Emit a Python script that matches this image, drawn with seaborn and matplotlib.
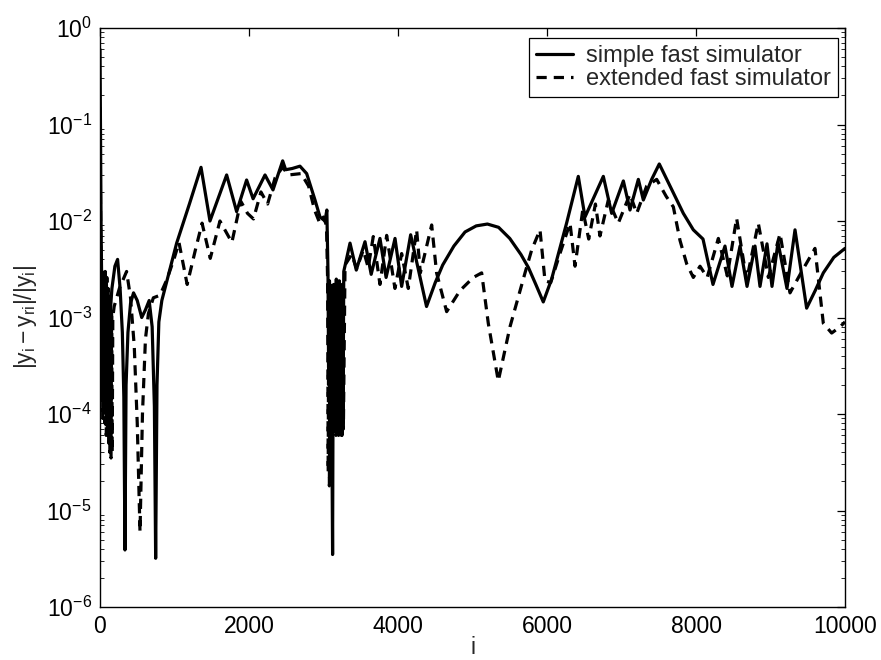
import numpy as np
import pandas as pd
import matplotlib
matplotlib.use("Agg")
import matplotlib.pyplot as plt
from matplotlib.lines import Line2D
from matplotlib.ticker import LogLocator
import seaborn as sns

# Relative error of the two fast simulators versus sample index i
simple_i = [0, 8, 15, 22, 30, 38, 46, 54, 62, 70, 78, 86, 94, 102, 110, 118, 126, 140, 160, 200,
            236, 270, 300, 320, 335, 350, 375, 410, 450, 500, 560, 610, 660, 700, 730, 747, 765,
            790, 830, 930, 1029, 1200, 1356, 1476, 1700, 1834, 1968, 2055, 2215, 2322, 2452,
            2492, 2580, 2684, 2774, 2886, 2953, 3020, 3045,
            3060, 3070, 3080, 3090, 3100, 3110, 3122, 3132, 3142, 3152, 3162, 3172, 3182, 3192,
            3202, 3212, 3222, 3232, 3242, 3252, 3262, 3272,
            3356, 3440, 3557, 3640, 3758, 3840, 3960, 4049, 4170, 4383, 4500, 4600, 4750, 4900,
            5050, 5200, 5350, 5500, 5650, 5750, 5850, 5950, 6062, 6263, 6420, 6510, 6756, 6868,
            7025, 7114, 7226, 7293, 7405, 7507, 7651, 7830, 7964, 8094, 8228, 8389, 8483, 8591,
            8685, 8792, 8859, 8953, 9020, 9101, 9221, 9329, 9485, 9600, 9709, 9850, 10000]
simple_err = [0.60, 0.05, 8e-3, 2.5e-3, 2.0e-4, 2.8e-3, 1.2e-4, 2.2e-3, 1.5e-4, 3.0e-3, 1.0e-4,
              2.5e-3, 1.8e-4, 2.0e-3, 1.3e-4, 1.6e-3, 3.0e-4, 1.2e-3, 2.0e-3, 3.4e-3,
              4.0e-3, 2.0e-3, 7e-4, 1.5e-4, 3.9e-6, 2e-4, 7e-4, 1.4e-3, 1.8e-3, 1.5e-3, 1.0e-3,
              1.2e-3, 1.5e-3, 8e-4, 1.2e-4, 3.2e-6, 2e-4,
              9e-4, 1.5e-3, 3.0e-3, 5.9e-3, 1.5e-2, 3.6e-2, 1.0e-2, 3.0e-2, 1.25e-2, 2.66e-2,
              1.7e-2, 3.0e-2, 2.1e-2, 4.2e-2,
              3.4e-2, 3.5e-2, 3.7e-2, 3.1e-2, 1.65e-2, 1.1e-2, 1.0e-2, 1.3e-2,
              3.0e-3, 2.0e-4, 2.4e-3, 1.5e-4, 2.0e-3, 1.2e-4, 3.5e-6, 1.8e-3, 8e-5, 2.2e-3, 7e-5,
              2.5e-3, 9e-5, 2.0e-3, 6e-5, 2.4e-3, 7e-5, 2.0e-3, 6e-5, 2.2e-3, 8e-5, 3.0e-3,
              5.9e-3, 3.1e-3, 6.1e-3, 2.8e-3, 6.6e-3, 2.6e-3, 6.6e-3, 2.1e-3, 7.2e-3, 1.3e-3,
              2.3e-3, 3.5e-3, 5.5e-3, 7.7e-3,
              8.9e-3, 9.3e-3, 8.6e-3, 6.6e-3, 4.5e-3, 3.3e-3, 2.2e-3, 1.45e-3, 2.5e-3, 9.5e-3,
              2.9e-2, 1.1e-2, 2.9e-2, 1.2e-2,
              2.6e-2, 1.3e-2, 2.7e-2, 1.65e-2, 2.7e-2, 3.9e-2, 2.3e-2, 1.2e-2, 8.1e-3, 6.5e-3,
              2.2e-3, 5.5e-3, 2.1e-3, 5.5e-3,
              2.1e-3, 5.5e-3, 2.1e-3, 5.8e-3, 2.1e-3, 6.0e-3, 2.0e-3, 8.1e-3, 1.25e-3, 1.9e-3,
              2.9e-3, 4.2e-3, 5.2e-3]

extended_i = [0, 8, 14, 20, 28, 36, 44, 52, 60, 68, 76, 84, 92, 100, 108, 116, 124, 132, 140,
              148, 156, 164, 172, 190, 260, 357, 410, 460, 500, 537, 570, 610, 650, 716, 805,
              900, 1000, 1060, 1170, 1280, 1370, 1480, 1610, 1770, 1890, 1980, 2060, 2160, 2250,
              2350, 2450, 2530, 2700, 2800, 2880, 2950, 3000, 3040,
              3055, 3063, 3071, 3079, 3087, 3095, 3103, 3111, 3119, 3127, 3137, 3147, 3157, 3167,
              3177, 3187, 3197, 3207, 3217, 3227, 3237, 3247, 3257, 3267, 3289,
              3378, 3445, 3534, 3600, 3668, 3758, 3848, 3959, 4049, 4138, 4250, 4300, 4452, 4518,
              4653, 4832, 5011, 5123, 5212, 5346, 5503, 5705, 5794, 5906, 5973, 6050, 6174, 6309,
              6376, 6480, 6560, 6650, 6711, 6823, 6957, 7114, 7204, 7338, 7472, 7600, 7696, 7785,
              7875, 7964, 8054, 8150, 8300, 8420, 8545, 8680, 8836, 8971, 9128, 9262, 9420, 9597,
              9709, 9821, 9933, 10000]
extended_err = [0.15, 0.01, 3e-3, 1.5e-4, 3.0e-3, 9e-5, 2.5e-3, 1.2e-4, 2.8e-3, 8e-5, 2.2e-3,
                6e-5, 2.6e-3, 7e-5, 2.0e-3, 5e-5, 1.8e-3, 4e-5, 1.5e-3,
                3.5e-5, 1.2e-3, 4e-5, 1.0e-3, 1.3e-3, 2.0e-3, 3.0e-3, 1.6e-3, 5e-4, 8e-5, 6e-6,
                1e-4, 6e-4, 1.1e-3, 1.6e-3, 1.7e-3,
                2.5e-3, 4.2e-3, 6.0e-3, 2.2e-3, 5.0e-3, 9.5e-3, 4.1e-3, 1.0e-2, 6.0e-3, 1.6e-2,
                1.2e-2, 1.05e-2, 2.0e-2, 1.5e-2,
                2.8e-2, 3.6e-2, 3.0e-2, 3.1e-2, 2.3e-2, 1.3e-2, 9.5e-3, 1.1e-2, 9e-3,
                2.5e-3, 2.5e-5, 2.2e-3, 1.8e-5, 2.0e-3, 2.0e-5, 2.4e-3, 4e-5, 2.0e-3, 6e-5,
                2.2e-3, 7e-5, 2.0e-3, 6e-5,
                2.5e-3, 7e-5, 2.0e-3, 6e-5, 2.3e-3, 6.5e-5, 2.0e-3, 6e-5, 2.2e-3, 7e-5, 3.5e-3,
                4.5e-3, 3.2e-3, 5.0e-3, 3.3e-3, 6.9e-3, 2.2e-3, 7.1e-3, 2.0e-3, 4.6e-3, 2.0e-3,
                8.1e-3, 2.9e-3, 9.1e-3, 2.9e-3,
                1.15e-3, 1.9e-3, 2.6e-3, 2.9e-3, 8.7e-4, 2.2e-4, 8.0e-4, 2.9e-3, 5.0e-3, 8.1e-3,
                2.4e-3, 2.3e-3, 4.6e-3, 9.5e-3,
                3.4e-3, 1.3e-2, 6.5e-3, 1.5e-2, 7.0e-3, 1.65e-2, 9.5e-3, 1.9e-2, 1.2e-2, 2.3e-2,
                2.7e-2, 1.8e-2, 1.4e-2, 6.3e-3,
                3.6e-3, 2.6e-3, 3.4e-3, 2.6e-3, 6.6e-3, 2.7e-3, 1.07e-2, 2.45e-3, 9.5e-3, 2.6e-3,
                7.4e-3, 1.8e-3, 3.0e-3, 5.2e-3,
                8.7e-4, 6.9e-4, 8.0e-4, 9.0e-4]

series_names = ["simple fast simulator", "extended fast simulator"]
x_ticks = [0, 2000, 4000, 6000, 8000, 10000]
y_ticks = [1e-6, 1e-5, 1e-4, 1e-3, 1e-2, 1e-1, 1e0]

sns.set_theme(style="white")
plt.rcParams["font.family"] = ["Liberation Sans", "DejaVu Sans"]
plt.rcParams["mathtext.fontset"] = "custom"
plt.rcParams["mathtext.rm"] = "Liberation Sans"
plt.rcParams["mathtext.it"] = "Liberation Sans"

fig = plt.figure(figsize=(8.81, 6.60), dpi=100)
ax = fig.add_axes([100 / 881, 53 / 660, 745 / 881, 579 / 660])

lw = 2.3
dash = (0, (3.2, 2.2))

simple_df = pd.DataFrame({"i": simple_i, "err": simple_err})
extended_df = pd.DataFrame({"i": extended_i, "err": extended_err})

sns.lineplot(data=simple_df, x="i", y="err", ax=ax, color="black", lw=lw,
             estimator=None, sort=False)
sns.lineplot(data=extended_df, x="i", y="err", ax=ax, color="black", lw=lw,
             linestyle=dash, estimator=None, sort=False)

ax.set_yscale("log")
ax.set_xlim(0, 10000)
ax.set_ylim(1e-6, 1e0)
ax.set_xticks(x_ticks)
ax.set_xticklabels([str(t) for t in x_ticks])
ax.set_yticks(y_ticks)
ax.yaxis.set_minor_locator(LogLocator(base=10, subs=np.arange(2, 10)))

for side in ["top", "right", "bottom", "left"]:
    ax.spines[side].set_visible(True)
    ax.spines[side].set_color("black")
    ax.spines[side].set_linewidth(1.0)

ax.tick_params(axis="both", which="major", direction="in", length=6, width=0.9,
               top=True, right=True, labelsize=16.5, colors="black", pad=6)
ax.tick_params(axis="y", which="minor", direction="in", length=3, width=0.7,
               left=True, right=True, labelleft=False)
ax.tick_params(axis="x", which="minor", bottom=False, top=False)

ax.set_xlabel("i", fontsize=16.5, labelpad=-2)
ax.set_ylabel(r"$\mathregular{|y_i-y_{ri}|/|y_i|}$", fontsize=16.5, labelpad=5)

handles = [Line2D([], [], color="black", lw=lw),
           Line2D([], [], color="black", lw=lw, linestyle=dash)]
leg = ax.legend(handles, series_names, loc="upper right", fontsize=17, frameon=True,
                fancybox=False, edgecolor="black", framealpha=1, borderpad=0.3,
                handlelength=1.55, handletextpad=0.55, labelspacing=0.05,
                borderaxespad=0, bbox_to_anchor=(0.9906, 0.9827))
leg.get_frame().set_linewidth(0.9)

fig.savefig("out.png", dpi=100, facecolor="white")
